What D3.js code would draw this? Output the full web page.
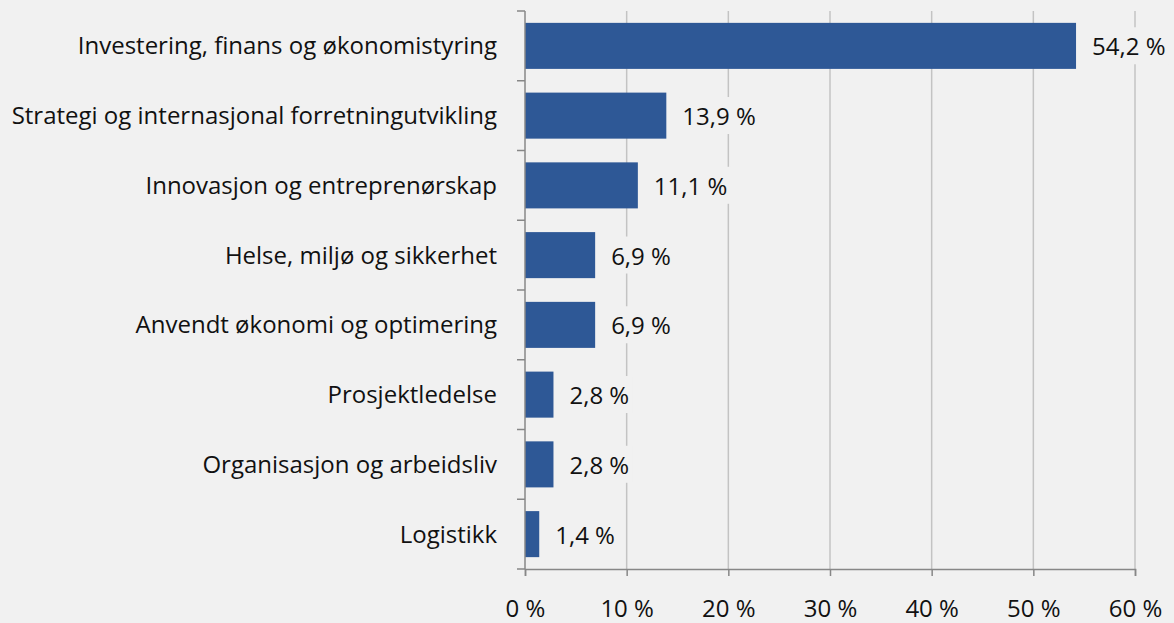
<!DOCTYPE html>
<html>
<head>
<meta charset="utf-8">
<script src="https://cdn.jsdelivr.net/npm/d3@7"></script>
<style>
  html, body { margin: 0; padding: 0; background: #f1f1f1; }
  svg { display: block; }
</style>
</head>
<body>
<div id="chart"></div>
<script>
// categories top to bottom, shares in percent
const categories = [
  "Investering, finans og økonomistyring",
  "Strategi og internasjonal forretningutvikling",
  "Innovasjon og entreprenørskap",
  "Helse, miljø og sikkerhet",
  "Anvendt økonomi og optimering",
  "Prosjektledelse",
  "Organisasjon og arbeidsliv",
  "Logistikk"
];
const values = [54.2, 13.9, 11.1, 6.9, 6.9, 2.8, 2.8, 1.4];
const xTicks = [0, 10, 20, 30, 40, 50, 60];

const width = 1174, height = 623;
const margin = { top: 11, right: 39, bottom: 54, left: 525 };
const font = "'Open Sans', sans-serif";
const fs = 24;
const bg = "#f1f1f1";

const data = categories.map((c, i) => ({ cat: c, val: values[i] }));

const x = d3.scaleLinear()
  .domain([0, 60])
  .range([margin.left, width - margin.right]);

const y = d3.scaleBand()
  .domain(categories)
  .range([margin.top, height - margin.bottom])
  .paddingInner(0.34)
  .paddingOuter(0.17);

const fmt = v => d3.format(".1f")(v).replace(".", ",") + " %";

const svg = d3.select("#chart").append("svg")
  .attr("width", width)
  .attr("height", height)
  .style("background", bg);

// vertical grid
svg.append("g")
  .selectAll("line")
  .data(xTicks.slice(1))
  .join("line")
  .attr("x1", d => x(d)).attr("x2", d => x(d))
  .attr("y1", margin.top).attr("y2", height - margin.bottom)
  .attr("stroke", "#c3c3c3")
  .attr("stroke-width", 1.5);

// bars
svg.append("g")
  .selectAll("rect")
  .data(data)
  .join("rect")
  .attr("x", x(0))
  .attr("y", d => y(d.cat))
  .attr("width", d => x(d.val) - x(0))
  .attr("height", y.bandwidth())
  .attr("fill", "#2e5896");

// value labels with background patch over the grid
const lab = svg.append("g")
  .selectAll("g")
  .data(data)
  .join("g")
  .attr("transform", d => `translate(${x(d.val) + 16},${y(d.cat) + y.bandwidth() / 2 + 1})`);

lab.append("text")
  .attr("dy", "0.35em")
  .attr("font-family", font)
  .attr("font-size", fs)
  .attr("fill", "#111")
  .text(d => fmt(d.val));

lab.each(function () {
  const g = d3.select(this);
  const b = g.select("text").node().getBBox();
  g.insert("rect", "text")
    .attr("x", b.x - 3).attr("y", b.y - 2)
    .attr("width", b.width + 6).attr("height", b.height + 4)
    .attr("fill", bg);
});

// y axis with ticks at band boundaries
const yAxis = svg.append("g");
yAxis.append("line")
  .attr("x1", x(0)).attr("x2", x(0))
  .attr("y1", margin.top).attr("y2", height - margin.bottom)
  .attr("stroke", "#878787").attr("stroke-width", 1.5);
const bounds = categories.map(c => y(c) - y.step() * y.paddingInner() / 2)
  .concat([height - margin.bottom]);
yAxis.selectAll(".tk")
  .data(bounds)
  .join("line")
  .attr("x1", x(0) - 8).attr("x2", x(0))
  .attr("y1", d => d).attr("y2", d => d)
  .attr("stroke", "#878787").attr("stroke-width", 1.5);

yAxis.selectAll("text")
  .data(data)
  .join("text")
  .attr("x", x(0) - 28)
  .attr("y", d => y(d.cat) + y.bandwidth() / 2)
  .attr("dy", "0.35em")
  .attr("text-anchor", "end")
  .attr("font-family", font)
  .attr("font-size", fs)
  .attr("fill", "#111")
  .text(d => d.cat);

// x axis
const xAxis = svg.append("g")
  .attr("transform", `translate(0,${height - margin.bottom})`)
  .call(d3.axisBottom(x).tickValues(xTicks).tickSize(7).tickPadding(24)
    .tickFormat(d => d + " %"));
xAxis.select(".domain").attr("stroke", "#878787").attr("stroke-width", 1.5);
xAxis.selectAll(".tick line").attr("stroke", "#878787").attr("stroke-width", 1.5);
xAxis.selectAll(".tick text")
  .attr("font-family", font)
  .attr("font-size", fs)
  .attr("fill", "#111");
</script>
</body>
</html>
